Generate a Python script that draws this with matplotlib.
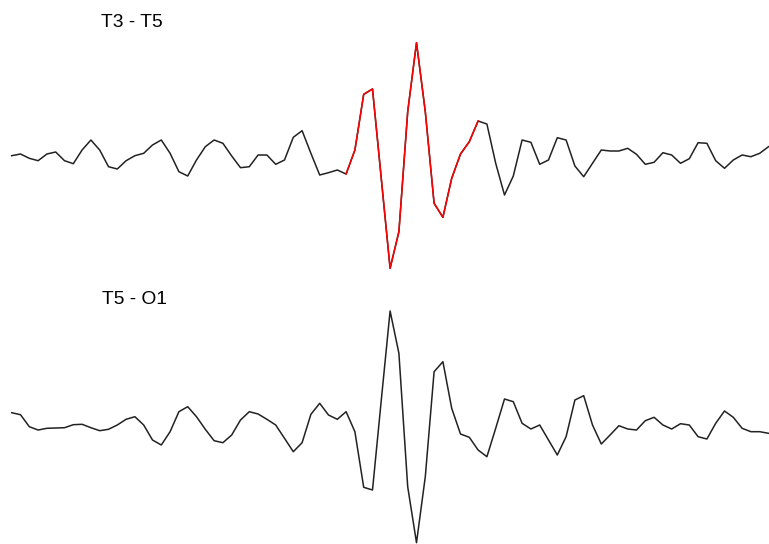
import matplotlib
matplotlib.use("Agg")
import matplotlib.pyplot as plt

# channel labels
channels = ["T3 - T5", "T5 - O1"]

# amplitudes, one value per sample
t3_t5 = [-0.7, 1, -3.3, -5.7, 1, 3, -5.7, -8.7, 5, 15,
         5, -11.7, -14, -5.7, -0.7, 1.7, 10, 15, 1.7, -16.7,
         -21, -5, 8.3, 15, 11.7, -1, -12.7, -11.7, 0, 0,
         -9.3, -5, 17.7, 24.3, 1.7, -20, -17.7, -15, -19, 5,
         60.7, 66, -23.7, -113.3, -76.7, 43.3, 112.3, 43.3, -48.3, -62.3,
         -23.3, 1, 13.3, 34, 31, -8.3, -40, -21, 15, 12.7,
         -9.3, -5, 17.3, 15, -11, -21.7, -8.3, 5, 4, 4,
         6.7, 0.7, -9.3, -7.3, 2.3, 0, -8.3, -3.7, 12.3, 11.7,
         -5.7, -13.3, -5, 0, -1.7, 1.7, 8.3]

t5_o1 = [12.3, 10.3, -1.7, -5, -3.3, -3, -2.7, 0.3, 0.7, -2.7,
         -5.7, -4.3, 0, 5.7, 8.3, 0, -15, -20, -6.7, 13.3,
         18.3, 8.3, -4.3, -15.7, -17.7, -10, 5, 13.3, 11, 5.7,
         0, -13.3, -26.7, -17.7, 10.7, 21.7, 10, 5.7, 13.3, -6.7,
         -62.3, -65, 25, 114, 71.7, -61.7, -117.7, -51.7, 53.3, 63.3,
         16.7, -9, -12.3, -25, -31.7, -3.3, 26, 23.3, 1.7, -4,
         0, -15, -30, -11.7, 25, 29.3, 0, -19, -10, -0.7,
         -4, -5, 4.3, 7.7, 0, -4, 1.3, 0, -11.7, -14,
         1.7, 14, 7.7, -3.3, -6.7, -6.7, -8.3]

# highlighted spike (sample indices, inclusive) in T3 - T5
spike_start, spike_end = 38, 53

n = len(t3_t5)
x = list(range(n))

fig = plt.figure(figsize=(7.69, 5.44), dpi=100)
ax = fig.add_axes([0, 0, 1, 1])

top_base = 155
bottom_base = 425

y_top = [top_base - v for v in t3_t5]
y_bot = [bottom_base - v for v in t5_o1]

ax.plot(x, y_top, color="#222222", lw=1.1)
ax.plot(x[spike_start:spike_end + 1], y_top[spike_start:spike_end + 1],
        color="red", lw=1.1)
ax.plot(x, y_bot, color="#222222", lw=1.1)

# pixel-like scale: 8.8 px per sample, first sample at 11.7 px
ax.set_xlim(-11.7 / 8.8, (769 - 11.7) / 8.8)
ax.set_ylim(544, 0)
ax.axis("off")

fig.text(101 / 769, 1 - 27 / 544, channels[0], fontsize=13.8,
         family="Liberation Sans", va="baseline", ha="left")
fig.text(102 / 769, 1 - 304 / 544, channels[1], fontsize=13.8,
         family="Liberation Sans", va="baseline", ha="left")

fig.savefig("out.png", dpi=100)
